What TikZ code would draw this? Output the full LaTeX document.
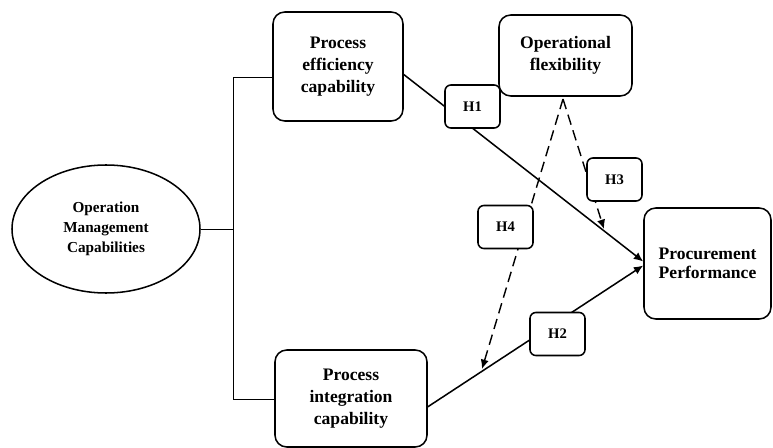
\documentclass[tikz,border=0pt]{standalone}
\usepackage{fontspec}
\setmainfont{Liberation Serif}
\usetikzlibrary{shapes.geometric,arrows.meta}

\begin{document}
\begin{tikzpicture}[x=0.03cm, y=-0.03cm,
    box/.style={draw, line width=1.3pt, rounded corners=10pt, align=center, font=\fontsize{15}{19}\selectfont\bfseries, inner sep=0pt},
    hyp/.style={draw, line width=1.3pt, fill=white, rounded corners=5pt, font=\fontsize{12.5}{14}\selectfont\bfseries, minimum width=1.65cm, minimum height=1.29cm, inner sep=0pt},
    link/.style={line width=1.3pt, -{Latex[length=8pt,width=7pt]}},
    dlink/.style={line width=1.2pt, -{Latex[length=8pt,width=7pt]}, dash pattern=on 9pt off 5pt}]
    \useasboundingbox (0,0) rectangle (773,448);

    % Constructs
    \node[draw, line width=1.3pt, ellipse, align=center, minimum width=5.64cm, minimum height=3.84cm, inner sep=0pt,
          font=\fontsize{13}{17}\selectfont\bfseries] (omc) at (106,229) {Operation\\Management\\Capabilities};
    \node[box, minimum width=3.9cm, minimum height=3.27cm] (eff) at (338,66.5) {Process\\efficiency\\capability};
    \node[box, minimum width=3.99cm, minimum height=2.43cm] (flex) at (565.5,55.5) {Operational\\flexibility};
    \node[box, minimum width=3.81cm, minimum height=3.33cm, font=\fontsize{15}{16.5}\selectfont\bfseries] (proc) at (707.5,263.5) {Procurement\\Performance};
    \node[box, minimum width=4.56cm, minimum height=2.91cm] (integ) at (351,398.5) {Process\\integration\\capability};

    % Tree on the left
    \coordinate (top) at (233,77);
    \coordinate (bot) at (233,399);
    \draw[thin] (top) -- (bot);
    \draw[thin] (omc.east) -- (omc.east -| top);
    \draw[thin] (top) -- (top -| eff.west);
    \draw[thin] (bot) -- (bot -| integ.west);

    % Paths
    \coordinate (base) at (563,99);
    \coordinate (tipthree) at (604,229);
    \coordinate (tipfour) at (482,369);
    \draw[link] ([yshift=-0.24cm]eff.east) -- ([yshift=0.06cm]proc.west);
    \draw[link] ([yshift=-0.25cm]integ.east) -- ([yshift=-0.06cm]proc.west);
    \draw[dlink] (base) -- (tipthree);
    \draw[dlink] (base) -- (tipfour);

    % Hypotheses
    \node[hyp] (hone) at (472.5,106.5) {H1};
    \node[hyp] (htwo) at (557.5,334) {H2};
    \node[hyp] (hthree) at (614.5,179.5) {H3};
    \node[hyp] (hfour) at (505.5,227) {H4};
\end{tikzpicture}
\end{document}
